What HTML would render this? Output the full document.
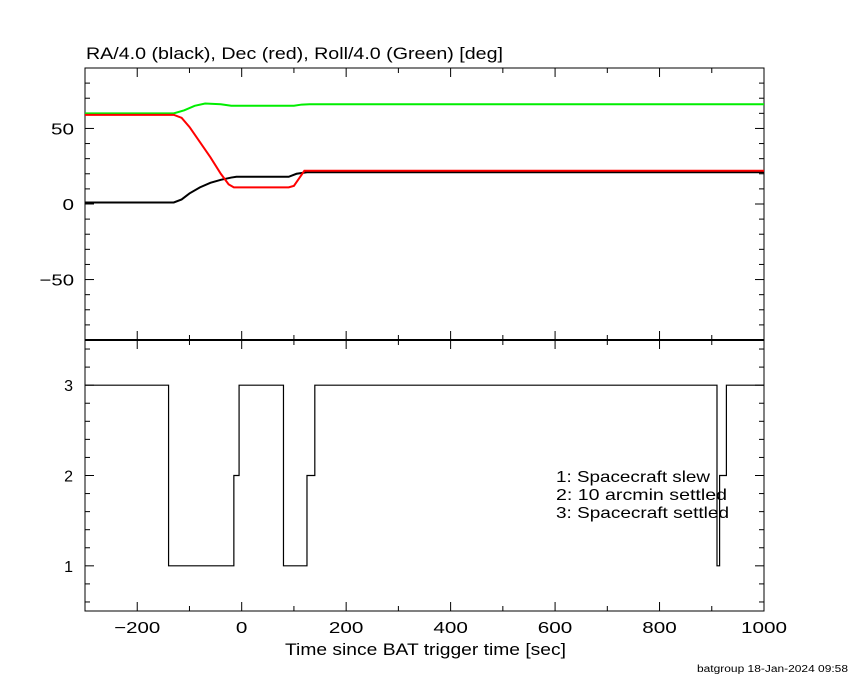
<!DOCTYPE html>
<html><head><meta charset="utf-8"><style>
html,body{margin:0;padding:0;background:#fff;width:850px;height:680px;overflow:hidden}
svg text{font-family:"Liberation Sans",sans-serif;fill:#000}
</style></head><body>
<svg id="c" width="850" height="680" xmlns="http://www.w3.org/2000/svg"></svg>
<script>
const tGreen=[-300,-130,-110,-90,-70,-40,-20,0,50,100,115,130,1000];
const vGreen=[60,60,62,65,66.5,66,65,65,65,65,65.8,66,66];
const tRed=[-300,-130,-115,-100,-80,-60,-40,-25,-15,0,50,90,100,110,120,1000];
const vRed=[59,59,57,51,41,31,20,13,11,11,11,11,12,17,22,22];
const tBlack=[-300,-130,-115,-100,-80,-60,-40,-20,-10,0,50,90,105,125,1000];
const vBlack=[1,1,3,7,11,14,16,17.5,18,18,18,18,20,21,21];
const tMode=[-300,-140,-15,-5,80,125,140,910,915,928,1000];
const vMode=[3,1,2,3,1,2,3,1,2,3,3];
const xTicks=[-200,0,200,400,600,800,1000];
const yTopTicks=[50,0,-50];
const yBotTicks=[3,2,1];

const NS="http://www.w3.org/2000/svg";
const svg=document.getElementById('c');
const L=85,R=764,T=68,M=340,B=611;
const X0=-300,X1=1000;
const sx=t=>L+(t-X0)/(X1-X0)*(R-L);
const syTop=v=>T+(90-v)/180*(M-T);
const syBot=v=>M+(3.5-v)/3*(B-M);
function el(tag,attrs,parent){const e=document.createElementNS(NS,tag);for(const k in attrs)e.setAttribute(k,attrs[k]);(parent||svg).appendChild(e);return e;}
function line(x1,y1,x2,y2,w,g){return el('line',{x1,y1,x2,y2,stroke:'#000','stroke-width':w||1},g);}
function txt(s,x,y,anchor,size,g,len){const e=el('text',{x,y,'text-anchor':anchor||'start','font-size':size||16},g);if(len){e.setAttribute('textLength',len);e.setAttribute('lengthAdjust','spacingAndGlyphs');}e.textContent=s;return e;}

const frames=el('g',{});


el('rect',{x:L,y:T,width:R-L,height:B-T,fill:'none',stroke:'#000','stroke-width':1},frames);
line(L,M,R,M,2,frames);

const xt=el('g',{});


for(let t=-300;t<=1000;t+=100){const x=sx(t);const maj=(t%200===0);const len=maj?9:5;
 line(x,B,x,B-len,1,xt);line(x,M,x,M-len,1,xt);line(x,M,x,M+len,1,xt);line(x,T,x,T+len,1,xt);}
xTicks.forEach(t=>{const s=t<0?'\u2212'+(-t):String(t);const e=txt(s,sx(t),633,'middle',16,xt,s.length*11.5);
 
 });

const yt=el('g',{});


for(let v=-90;v<=90;v+=10){const y=syTop(v);const len=(v%50===0)?9:5;line(L,y,L+len,y,1,yt);line(R,y,R-len,y,1,yt);}
yTopTicks.forEach(v=>{const s=v<0?'\u2212'+(-v):String(v);const e=txt(s,74,syTop(v)+6,'end',16,yt,s.length*11.5);
 
 });
const yb=el('g',{});


for(let i=3;i<=17;i++){const v=i*0.2;const y=syBot(v);const maj=Math.abs(v-Math.round(v))<1e-6;const len=maj?9:5;line(L,y,L+len,y,1,yb);line(R,y,R-len,y,1,yb);}
yBotTicks.forEach(v=>{const e=txt(String(v),73,syBot(v)+6,'end',16,yb);
 
 });

function series(ts,vs,sy,color,name,step){let d='';
 if(step){for(let i=0;i<ts.length-1;i++){const x0=sx(ts[i]),x1=sx(ts[i+1]),y=sy(vs[i]);
  d+=(i===0?'M'+x0+' '+y:' V'+y)+' H'+x1;}}
 else{for(let i=0;i<ts.length;i++){const x=sx(ts[i]),y=sy(vs[i]);d+=(i===0?'M':' L')+x+' '+y;}}
 const p=el('path',{d,fill:'none',stroke:color,'stroke-width':step?1.2:2});
 
 }
series(tGreen,vGreen,syTop,'#00ee00','roll-series');
series(tBlack,vBlack,syTop,'#000','ra-series');
series(tRed,vRed,syTop,'#ff0000','dec-series');
series(tMode,vMode,syBot,'#000','settle-mode-series',true);

let e;
e=txt('RA/4.0 (black), Dec (red), Roll/4.0 (Green) [deg]',86,59,'start',17,null,417);


e=txt('Time since BAT trigger time [sec]',285,655,'start',17,null,281);


[['1: Spacecraft slew',154],['2: 10 arcmin settled',171],['3: Spacecraft settled',173]].forEach((s,i)=>{
 const t=txt(s[0],556,482+i*18,'start',16,null,s[1]);
 
 });
e=txt('batgroup 18-Jan-2024 09:58',697,672,'start',10,null,151);


</script>
</body></html>
